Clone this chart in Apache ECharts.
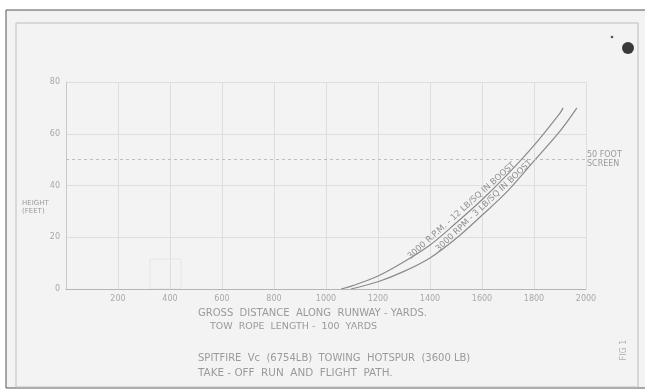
<!DOCTYPE html>
<html>
<head>
<meta charset="utf-8">
<script src="https://cdn.jsdelivr.net/npm/echarts@6/dist/echarts.min.js"></script>
<style>
html,body{margin:0;padding:0;background:#fff;}
#c{width:645px;height:392px;}
</style>
</head>
<body>
<div id="c"></div>
<script>
// ---- data ----
var xTicks = [200, 400, 600, 800, 1000, 1200, 1400, 1600, 1800, 2000];
var yTicks = [0, 20, 40, 60, 80];
var boost12 = [[1058,0],[1100,1.2],[1200,5],[1300,10.5],[1400,17],[1500,25.5],[1600,34.5],[1700,44.5],[1800,55.5],[1900,68],[1912,70]];
var boost3  = [[1096,0],[1200,2.8],[1300,6.8],[1400,12],[1500,19.5],[1600,28.5],[1700,38],[1800,49.5],[1900,61],[1965,70]];
var screenHeight = 50;
var curveLabels = ['3000 R.P.M. - 12 LB/SQ IN BOOST', '3000 RPM - 3 LB/SQ IN BOOST'];
// label centres sit on these curve stretches (data coords)
var labelSpans = [[[1500,25.5],[1600,34.5]], [[1600,28.5],[1700,38]]];
var labelT = [0.35, 0.22];

var ink = '#9a9a9a';
var font = '"DejaVu Sans", sans-serif';
var chart = echarts.init(document.getElementById('c'), null, {renderer: 'canvas'});

function baseGraphics() {
  return [
    {type:'rect', shape:{x:0,y:0,width:645,height:392}, style:{fill:'#ffffff'}, z:-10, silent:true},
    {type:'rect', shape:{x:6,y:10,width:645,height:378}, style:{fill:'#f3f3f3', stroke:'#555', lineWidth:1}, z:-9, silent:true},
    {type:'rect', shape:{x:16,y:23,width:622,height:364}, style:{fill:'none', stroke:'#bdbdbd', lineWidth:1}, z:-8, silent:true},
    {type:'circle', shape:{cx:628,cy:48,r:6}, style:{fill:'#3a3a3a'}, silent:true},
    {type:'circle', shape:{cx:612,cy:37,r:1.3}, style:{fill:'#555'}, silent:true},
    {type:'rect', shape:{x:150,y:259,width:31,height:30}, style:{fill:'none', stroke:'#e6e6e6', lineWidth:1}, silent:true},
    {type:'text', left:22, top:199, style:{text:'HEIGHT\n(FEET)', fill:ink, font:'7px '+font, lineHeight:8}},
    {type:'text', left:587, top:151, style:{text:'50 FOOT\nSCREEN', fill:ink, font:'8px '+font, lineHeight:8.5}},
    {type:'text', x:198, y:313, style:{text:'GROSS  DISTANCE  ALONG  RUNWAY - YARDS.', fill:ink, font:'10px '+font, verticalAlign:'middle'}},
    {type:'text', x:210, y:327, style:{text:'TOW  ROPE  LENGTH -  100  YARDS', fill:ink, font:'9.5px '+font, verticalAlign:'middle'}},
    {type:'text', x:198, y:358, style:{text:'SPITFIRE  Vc  (6754LB)  TOWING  HOTSPUR  (3600 LB)', fill:ink, font:'10px '+font, verticalAlign:'middle'}},
    {type:'text', x:198, y:373, style:{text:'TAKE - OFF  RUN  AND  FLIGHT  PATH.', fill:ink, font:'10.4px '+font, verticalAlign:'middle'}},
    {type:'text', x:624, y:350, rotation:Math.PI/2, style:{text:'FIG 1', fill:'#b0b0b0', font:'8px '+font, align:'center', verticalAlign:'middle'}}
  ];
}

var option = {
  animation: false,
  backgroundColor: 'transparent',
  grid: {left:66, right:59, top:82, bottom:103, containLabel:false},
  xAxis: {
    type:'value', min:0, max:2000, interval:200,
    axisLine:{show:true, lineStyle:{color:'#b5b5b5', width:1}},
    axisTick:{show:false},
    splitLine:{show:true, lineStyle:{color:'#dedede', width:1}},
    axisLabel:{color:'#a8a8a8', fontSize:8, fontFamily:'"DejaVu Sans", sans-serif', margin:6,
      formatter:function(v){ return xTicks.indexOf(v) >= 0 ? String(v) : ''; }}
  },
  yAxis: {
    type:'value', min:0, max:80, interval:20,
    axisLine:{show:true, lineStyle:{color:'#c8c8c8', width:1}},
    axisTick:{show:false},
    splitLine:{show:true, lineStyle:{color:'#dedede', width:1}},
    axisLabel:{color:'#a8a8a8', fontSize:8, fontFamily:'"DejaVu Sans", sans-serif', margin:6,
      formatter:function(v){ return yTicks.indexOf(v) >= 0 ? String(v) : ''; }}
  },
  series: [
    {type:'line', data:boost12, smooth:0.35, symbol:'none', lineStyle:{color:'#8a8a8a', width:1.2},
      markLine:{silent:true, symbol:'none', label:{show:false},
        lineStyle:{color:'#bdbdbd', type:[3,3], width:1},
        data:[[{coord:[0,screenHeight]},{coord:[2000,screenHeight]}]]}},
    {type:'line', data:boost3, smooth:0.35, symbol:'none', lineStyle:{color:'#8a8a8a', width:1.2}}
  ],
  graphic: baseGraphics()
};
chart.setOption(option);

var g = baseGraphics();
for (var i = 0; i < curveLabels.length; i++) {
  var a = chart.convertToPixel({gridIndex:0}, labelSpans[i][0]);
  var b = chart.convertToPixel({gridIndex:0}, labelSpans[i][1]);
  var dx = b[0]-a[0], dy = b[1]-a[1];
  var len = Math.sqrt(dx*dx+dy*dy);
  var ux = dx/len, uy = dy/len;           // along the curve
  var nx = uy, ny = -ux;                   // normal pointing up-left
  var off = 5.5;
  var cx = a[0] + dx*labelT[i] + nx*off;
  var cy = a[1] + dy*labelT[i] + ny*off;
  var ang = Math.atan2(-dy, dx);
  g.push({type:'text', x:cx, y:cy, rotation:ang,
    style:{text:curveLabels[i], fill:'#8f8f8f', font:'8.5px "DejaVu Sans", sans-serif', align:'center', verticalAlign:'middle'}});
}
chart.setOption({graphic: g}, {replaceMerge:['graphic']});
</script>
</body>
</html>
